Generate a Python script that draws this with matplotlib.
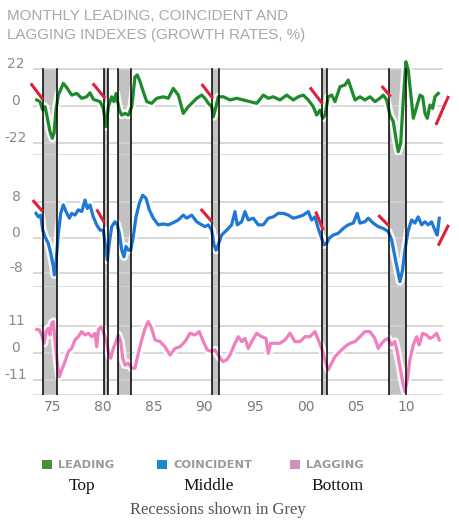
import matplotlib.pyplot as plt
import matplotlib.patheffects as pe
from matplotlib.patches import Rectangle
import matplotlib.transforms as mtransforms

# --- data (decimal year, growth rate %) ---
lead_t = [1973.18, 1973.50, 1973.77, 1974.00, 1974.17, 1974.49, 1974.72, 1974.89, 1975.08, 1975.31,
          1975.80, 1976.14, 1976.63, 1977.13, 1977.62, 1978.11, 1978.44, 1978.77, 1979.43, 1979.75,
          1980.02, 1980.25, 1980.58, 1980.81, 1981.01, 1981.33, 1981.57, 1981.90, 1982.22, 1982.56,
          1982.88, 1983.11, 1983.38, 1983.70, 1984.04, 1984.53, 1985.02, 1985.68, 1986.17, 1986.66,
          1987.16, 1987.65, 1988.14, 1988.48, 1988.97, 1989.47, 1989.79, 1990.12, 1990.45, 1990.61,
          1990.88, 1991.10, 1991.60, 1992.26, 1992.92, 1993.57, 1994.23, 1994.90, 1995.55, 1996.04,
          1996.53, 1997.20, 1997.86, 1998.51, 1999.00, 1999.50, 1999.99, 2000.48, 2000.82, 2001.15,
          2001.41, 2001.64, 2001.96, 2002.30, 2002.63, 2003.12, 2003.61, 2003.94, 2004.27, 2004.60,
          2005.09, 2005.58, 2006.08, 2006.57, 2007.06, 2007.39, 2007.73, 2008.05, 2008.38, 2008.72,
          2008.87, 2009.11, 2009.37, 2009.63, 2009.86, 2010.10, 2010.36, 2010.69, 2011.02, 2011.28,
          2011.51, 2011.74, 2012.00, 2012.27, 2012.49, 2012.82]
lead_v = [3.6, 2.6, -2.4, -0.4, -5.4, -15.3, -19.2, -16.0, -2.4, 6.5,
          13.5, 11.0, 6.5, 7.5, 4.6, 5.5, 7.9, 4.0, 2.6, -1.4,
          -12.3, -0.4, 5.5, 2.6, 7.5, -2.4, -5.4, -4.4, -5.4, -0.4,
          17.4, 18.5, 14.5, 8.5, 2.6, 1.6, 4.6, 5.5, 4.6, 10.5,
          6.5, -4.4, -0.4, 1.6, 4.6, 6.5, 4.6, 1.6, -0.4, -6.4,
          -0.4, 5.5, 5.5, 3.6, 4.6, 3.6, 2.6, 1.6, 6.5, 4.6,
          5.5, 3.6, 6.5, 3.6, 5.5, 6.5, 3.6, -0.4, -5.4, -2.4,
          -7.3, -5.4, 5.5, 6.5, 2.6, 11.5, 12.5, 15.5, 9.5, 3.6,
          5.5, 3.6, 5.5, 2.6, 4.6, 6.5, 3.6, -5.4, -9.3, -22.2,
          -27.2, -22.2, 3.6, 26.4, 21.4, 7.5, -7.3, -0.4, 6.5, 5.5,
          -4.4, -7.3, 0.6, -1.4, 5.5, 7.5]

coin_t = [1973.11, 1973.34, 1973.57, 1973.77, 1974.00, 1974.32, 1974.56, 1974.82, 1974.92, 1975.08,
          1975.31, 1975.55, 1975.80, 1976.07, 1976.40, 1976.63, 1976.96, 1977.28, 1977.62, 1977.95,
          1978.17, 1978.44, 1978.76, 1979.10, 1979.43, 1979.75, 1980.02, 1980.15, 1980.34, 1980.58,
          1980.91, 1981.13, 1981.33, 1981.57, 1981.79, 1981.99, 1982.22, 1982.46, 1982.71, 1982.98,
          1983.31, 1983.64, 1983.97, 1984.29, 1984.69, 1985.18, 1985.67, 1986.17, 1986.66, 1987.15,
          1987.65, 1987.98, 1988.48, 1988.97, 1989.46, 1989.79, 1990.12, 1990.45, 1990.68, 1990.88,
          1991.10, 1991.44, 1991.93, 1992.42, 1992.75, 1992.98, 1993.41, 1993.74, 1994.06, 1994.56,
          1995.05, 1995.54, 1996.04, 1996.53, 1997.02, 1997.52, 1998.01, 1998.51, 1999.00, 1999.49,
          1999.99, 2000.32, 2000.65, 2000.97, 2001.31, 2001.53, 2001.80, 2002.06, 2002.45, 2002.95,
          2003.44, 2003.93, 2004.43, 2004.82, 2005.09, 2005.58, 2005.91, 2006.40, 2006.90, 2007.39,
          2007.88, 2008.22, 2008.54, 2008.87, 2009.04, 2009.30, 2009.53, 2009.86, 2010.19, 2010.52,
          2010.84, 2011.18, 2011.50, 2011.83, 2012.16, 2012.49, 2012.72, 2012.92]
coin_v = [5.5, 4.7, 5.1, 1.7, 0.2, -1.3, -3.5, -6.5, -8.4, -5.8,
          1.0, 5.5, 7.4, 5.9, 4.4, 5.5, 5.1, 6.3, 5.9, 8.5,
          6.6, 7.4, 4.7, 2.9, 1.7, 1.7, -2.8, -5.0, -1.3, 2.5,
          3.6, 2.9, 1.0, -2.8, -4.3, -2.0, -2.8, -2.8, 0.2, 4.7,
          7.8, 9.6, 8.9, 6.3, 4.4, 2.9, 3.1, 2.9, 3.4, 4.0,
          5.1, 4.4, 5.1, 3.6, 2.9, 2.5, 2.9, 1.7, -1.6, -2.8,
          -1.6, 0.6, 1.7, 2.9, 5.9, 2.9, 3.6, 5.9, 4.0, 4.4,
          2.9, 2.9, 4.4, 4.7, 5.5, 5.5, 5.1, 4.4, 4.7, 5.1,
          5.9, 4.0, 4.7, 2.1, -0.1, -1.6, -1.3, -0.1, 0.6, 1.0,
          2.1, 2.9, 3.3, 5.5, 3.3, 3.6, 4.4, 3.3, 2.5, 2.1,
          1.4, -0.5, -4.3, -8.0, -9.9, -7.3, -2.8, 1.7, 4.0, 3.3,
          4.7, 2.9, 3.6, 2.9, 3.6, 1.7, 0.6, 4.4]

lag_t = [1973.18, 1973.44, 1973.67, 1973.90, 1974.10, 1974.32, 1974.49, 1974.66, 1974.82, 1974.98,
         1975.21, 1975.41, 1975.65, 1975.97, 1976.30, 1976.63, 1976.96, 1977.28, 1977.62, 1977.95,
         1978.27, 1978.61, 1978.93, 1979.10, 1979.26, 1979.52, 1979.75, 1980.02, 1980.25, 1980.48,
         1980.74, 1981.01, 1981.23, 1981.47, 1981.67, 1981.89, 1982.22, 1982.55, 1982.88, 1983.21,
         1983.54, 1983.87, 1984.19, 1984.53, 1984.85, 1985.35, 1985.84, 1986.34, 1986.83, 1987.32,
         1987.82, 1988.31, 1988.80, 1989.23, 1989.62, 1990.02, 1990.45, 1990.78, 1991.10, 1991.54,
         1991.93, 1992.26, 1992.75, 1993.08, 1993.41, 1993.74, 1994.06, 1994.40, 1994.89, 1995.39,
         1995.81, 1996.04, 1996.27, 1996.70, 1997.19, 1997.69, 1998.18, 1998.67, 1999.17, 1999.66,
         2000.15, 2000.65, 2000.97, 2001.31, 2001.63, 2001.96, 2002.29, 2002.62, 2003.11, 2003.61,
         2004.10, 2004.60, 2005.09, 2005.58, 2006.07, 2006.57, 2006.90, 2007.23, 2007.56, 2007.88,
         2008.22, 2008.54, 2008.77, 2009.04, 2009.30, 2009.53, 2009.76, 2010.02, 2010.35, 2010.69,
         2010.94, 2011.28, 2011.67, 2012.00, 2012.32, 2012.66, 2012.92]
lag_v = [9.8, 9.5, 7.5, 4.1, 8.9, 10.2, 7.5, 12.3, 13.0, 5.5,
         -4.1, -9.6, -6.8, -3.4, 0.7, 2.0, 5.5, 6.8, 8.9, 7.5,
         8.2, 6.8, 8.2, 2.7, 9.5, 10.9, 8.9, 5.5, 0.7, -2.0,
         2.0, 4.8, 7.5, 4.8, -2.0, -4.8, -4.1, -6.1, -6.1, 0.0,
         5.5, 10.2, 13.0, 10.2, 5.5, 4.8, 2.7, -0.7, 2.0, 2.7,
         4.8, 8.2, 7.5, 8.9, 4.8, 1.4, 0.7, 1.4, -0.7, -3.4,
         -2.7, -0.7, 4.1, 6.8, 4.8, 6.1, 2.0, 4.8, 8.2, 6.8,
         6.1, 0.0, 4.1, 4.1, 4.1, 5.5, 8.2, 4.8, 4.8, 6.8,
         6.8, 8.9, 5.5, 2.0, -2.7, -6.8, -4.1, -1.4, 0.7, 2.7,
         4.1, 4.8, 6.8, 8.9, 8.9, 6.1, 2.0, 4.1, 5.5, 6.1,
         3.4, 4.8, 0.7, -5.5, -11.6, -15.7, -10.9, -2.7, 3.4, 6.8,
         3.4, 8.2, 7.5, 6.1, 6.8, 8.2, 5.5]

# recession start/end as drawn on the chart
rec_start = [1973.83, 1979.85, 1981.23, 1990.51, 2001.31, 2007.92]
rec_end = [1975.21, 1980.24, 1982.51, 1991.20, 2001.86, 2009.66]

# red hand-drawn marks: (t0, v0, t1, v1)
lead_marks = [(1972.59, 13.5, 1973.77, 4.0), (1978.71, 13.5, 1979.92, 4.6),
              (1989.46, 13.1, 1990.55, 4.6), (2000.15, 11.1, 2001.41, 1.2),
              (2007.23, 11.9, 2008.12, 5.6), (2012.59, -11.3, 2013.84, 6.0)]
coin_marks = [(1972.78, 8.5, 1973.77, 5.9), (1979.10, 6.4, 1979.85, 3.4),
              (1989.37, 6.5, 1990.48, 3.6), (2000.72, 5.9, 2001.47, 1.7),
              (2006.90, 5.1, 2007.98, 2.6), (2012.82, -1.8, 2013.84, 2.9)]

year_ticks = [1975, 1980, 1985, 1990, 1995, 2000, 2005, 2010]
year_labels = ['75', '80', '85', '90', '95', '00', '05', '10']

W, H = 459, 524
fig = plt.figure(figsize=(W / 100, H / 100), dpi=100)
fig.patch.set_facecolor('white')

x0, x1 = 33, 443
xlim = (1972.81, 2013.29)


def make_ax(top, bottom, ylim):
    ax = fig.add_axes([x0 / W, 1 - bottom / H, (x1 - x0) / W, (bottom - top) / H])
    ax.set_xlim(*xlim)
    ax.set_ylim(*ylim)
    ax.axis('off')
    return ax


ax_lead = make_ax(55, 155, (-29.2, 30.4))
ax_coin = make_ax(155, 286.7, (-11.06, 18.67))
ax_lag = make_ax(286.7, 395, (-17.1, 27.3))

panels = [
    (ax_lead, lead_t, lead_v, '#1f8a2a', [22, 0, -22], ['22', '0', '-22'], 22),
    (ax_coin, coin_t, coin_v, '#1f78d6', [8, 0, -8], ['8', '0', '-8'], None),
    (ax_lag, lag_t, lag_v, '#f07fc0', [11, 0, -11], ['11', '0', '-11'], None),
]

for ax, t, v, color, ticks, labels, band_top in panels:
    ylo, yhi = ax.get_ylim()
    frac = 1.0 if band_top is None else (band_top - ylo) / (yhi - ylo)
    for s, e in zip(rec_start, rec_end):
        ax.axvspan(s, e, ymin=0, ymax=frac, color='#c2c2c2', lw=0, zorder=0)
    for g in ticks:
        ax.axhline(g, color='#d2d2d2', lw=1.2, zorder=1)
    ax.axhline(ylo, color='#c9d6e4', lw=1.8, zorder=1)
    for s, e in zip(rec_start, rec_end):
        ax.axvline(s, ymin=0, ymax=frac, color='black', lw=1.1, zorder=4)
        ax.axvline(e, ymin=0, ymax=frac, color='black', lw=1.1, zorder=4)
    ax.plot(t, v, color=color, lw=2.3, zorder=3, solid_joinstyle='round',
            path_effects=[pe.Stroke(linewidth=6, foreground='white', alpha=0.85), pe.Normal()])
    trans = mtransforms.blended_transform_factory(ax.transAxes, ax.transData)
    trans = trans + mtransforms.ScaledTranslation(0, 5 / 100, fig.dpi_scale_trans)
    for g, lab in zip(ticks, labels):
        ax.text((16 - x0) / (x1 - x0), g, lab, transform=trans, ha='center', va='center',
                fontsize=10, color='#8a8a8a', family='DejaVu Sans')

for ax, marks in [(ax_lead, lead_marks), (ax_coin, coin_marks)]:
    for ta, va, tb, vb in marks:
        ax.plot([ta, tb], [va, vb], color='#e0203a', lw=2.2, zorder=6, clip_on=False,
                solid_capstyle='butt')

# year labels under the bottom panel
for yr, lab in zip(year_ticks, year_labels):
    ax_lag.text(yr, -17.1, lab, ha='center', va='top', fontsize=10, color='#7a7a7a',
                transform=ax_lag.transData + mtransforms.ScaledTranslation(-3 / 100, -5 / 100, fig.dpi_scale_trans))

# title
fig.text(7 / W, 1 - 16 / H, 'MONTHLY LEADING, COINCIDENT AND', ha='left', va='center',
         fontsize=10.9, color='#a8a8a8', family='Liberation Sans')
fig.text(7 / W, 1 - 35 / H, 'LAGGING INDEXES (GROWTH RATES, %)', ha='left', va='center',
         fontsize=10.9, color='#a8a8a8', family='Liberation Sans')

# legend
leg = [(42, '#4a8f3a', 'LEADING'), (157, '#1a8ad0', 'COINCIDENT'), (290, '#d08fbd', 'LAGGING')]
for lx, lc, lt in leg:
    fig.patches.append(Rectangle((lx / W, 1 - 469 / H), 10 / W, 9 / H, transform=fig.transFigure,
                                 color=lc, lw=0))
    fig.text((lx + 16) / W, 1 - 465 / H, lt, ha='left', va='center', fontsize=8.2,
             color='#9a9a9a', family='DejaVu Sans', fontweight='bold')

for cx, txt in [(82, 'Top'), (209, 'Middle'), (338, 'Bottom')]:
    fig.text(cx / W, 1 - 486 / H, txt, ha='center', va='center', fontsize=12.5,
             color='#111111', family='Liberation Serif')
fig.text(218 / W, 1 - 510 / H, 'Recessions shown in Grey', ha='center', va='center',
         fontsize=12, color='#555555', family='Liberation Serif')

fig.savefig('out.png', dpi=100)
